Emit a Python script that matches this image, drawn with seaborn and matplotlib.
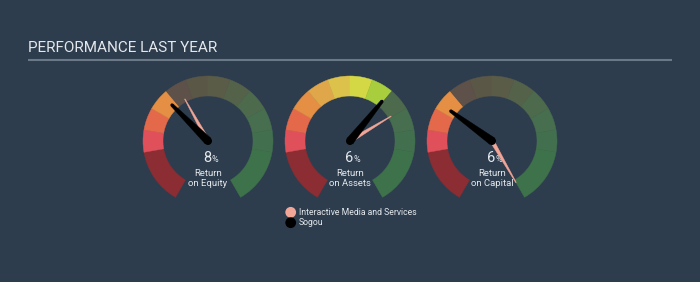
import numpy as np
import pandas as pd
import matplotlib
matplotlib.use("Agg")
import matplotlib.pyplot as plt
from matplotlib.patches import Wedge, Polygon, Circle
import seaborn as sns

# ---------------- data ----------------
metric_labels = ["Return\non Equity", "Return\non Assets", "Return\non Capital"]
company_values = [8, 6, 6]            # Sogou (%)
industry_values = [12.3, 7.8, 40]     # Interactive Media and Services (%)
scale_min = [-20, -11, -10]
scale_max = [60, 16, 40]
legend_labels = ["Interactive Media and Services", "Sogou"]
title_text = "PERFORMANCE LAST YEAR"

# ---------------- style ----------------
BG = "#2e3d4e"
TEXT = "#e4e8ec"
PINK = "#f2a697"
NEEDLE = "#000000"
seg_widths = [50] + [20] * 10 + [50]          # degrees, total 300
lit_colors = ["#8b2d32", "#e0505a", "#e4694b", "#e48f43", "#e0a64a", "#dcc24a",
              "#d5d845", "#a8ce3d", "#79b84a", "#5fa84e", "#4f9a50", "#3f8a4d"]
dim_colors = ["#4a3a42", "#4f4550", "#54494b", "#5a4f49", "#5d5149", "#5b5747",
              "#5a5c48", "#55624a", "#4d6a4d", "#476e4e", "#42704e", "#3e724b"]
A_START, A_END = 240.0, -60.0
R_OUT, R_W = 65, 20
centers_x = [208, 350, 492]
cy = 141

sns.set_theme(style="white", rc={"axes.facecolor": BG, "figure.facecolor": BG})
plt.rcParams["font.family"] = ["Roboto", "DejaVu Sans"]

fig = plt.figure(figsize=(7, 2.82), dpi=100)
ax = fig.add_axes([0, 0, 1, 1])
ax.set_xlim(0, 700)
ax.set_ylim(0, 282)
ax.axis("off")


def val_to_angle(v, lo, hi):
    f = (v - lo) / (hi - lo)
    return A_START - f * (A_START - A_END)


def needle(cx, ang, length, w0, w1, color, z):
    t = np.deg2rad(ang)
    d = np.array([np.cos(t), np.sin(t)])
    p = np.array([-d[1], d[0]])
    c = np.array([cx, cy])
    tip = c + d * length
    pts = [c + p * w0 / 2, tip + p * w1 / 2, tip - p * w1 / 2, c - p * w0 / 2]
    ax.add_patch(Polygon(pts, closed=True, facecolor=color, edgecolor=color,
                         lw=0.3, zorder=z))
    ax.add_patch(Circle(c, w0 / 2, facecolor=color, edgecolor="none", zorder=z))
    if w1 > 1.5:
        ax.add_patch(Circle(tip, w1 / 2, facecolor=color, edgecolor="none", zorder=z))


for i, cx in enumerate(centers_x):
    comp_ang = val_to_angle(company_values[i], scale_min[i], scale_max[i])
    ind_ang = val_to_angle(industry_values[i], scale_min[i], scale_max[i])
    a = A_START
    for k, w in enumerate(seg_widths):
        a2 = a - w
        col = lit_colors[k] if a >= comp_ang else dim_colors[k]
        ax.add_patch(Wedge((cx, cy), R_OUT, a2, a, width=R_W, facecolor=col,
                           edgecolor=col, lw=0.3, zorder=1))
        a = a2
    # value + label text
    ax.text(cx + 3, 282 - 158, f"{company_values[i]:g}", color=TEXT, fontsize=10.5,
            ha="right", va="center", zorder=3)
    ax.text(cx + 3.5, 282 - 159.5, "%", color=TEXT, fontsize=6.5, ha="left",
            va="center", zorder=3)
    ax.text(cx, 282 - 178.5, metric_labels[i], color=TEXT, fontsize=6.8,
            ha="center", va="center", linespacing=1.05, zorder=3)
    needle(cx, ind_ang, 48, 4, 0.6, PINK, 4)
    needle(cx, comp_ang, 51, 8, 3, NEEDLE, 5)

# title and rule
ax.text(28, 282 - 48, title_text, color=TEXT, fontsize=11, ha="left", va="center")
ax.plot([28, 672], [282 - 59.5, 282 - 59.5], color="#6b7886", lw=1.5,
        solid_capstyle="butt")

# legend
leg = pd.DataFrame({"x": [290.7, 290.7], "y": [282 - 212.3, 282 - 222.7],
                    "series": legend_labels})
sns.scatterplot(data=leg, x="x", y="y", hue="series",
                palette={legend_labels[0]: PINK, legend_labels[1]: NEEDLE},
                s=60, edgecolor="none", legend=False, ax=ax, zorder=6)
for yy, lab in zip(leg["y"], leg["series"]):
    ax.text(299, yy, lab, color=TEXT, fontsize=6.2, ha="left", va="center")

ax.set_xlim(0, 700)
ax.set_ylim(0, 282)
ax.axis("off")
fig.savefig("out.png", dpi=100, facecolor=BG)
